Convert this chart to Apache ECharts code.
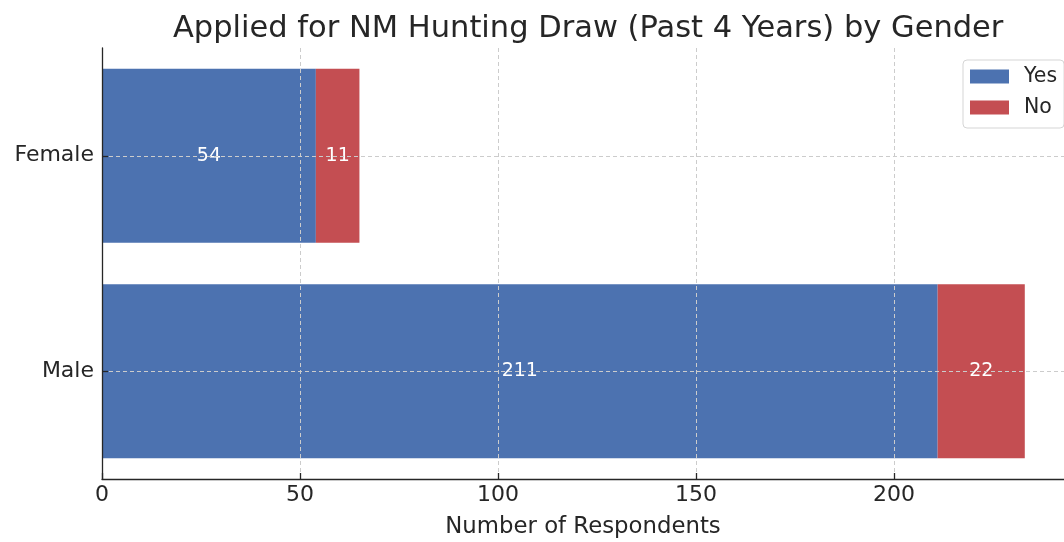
<!DOCTYPE html>
<html>
<head>
<meta charset="utf-8">
<script src="https://cdn.jsdelivr.net/npm/echarts@6/dist/echarts.min.js"></script>
<style>html,body{margin:0;padding:0;background:#fff}#c{width:1064px;height:542px}</style>
</head>
<body>
<div id="c"></div>
<script>
const categories = ['Male', 'Female'];
const yesValues = [211, 54];
const noValues = [22, 11];
const xTicks = [0, 50, 100, 150, 200];

const FONT = 'DejaVu Sans';
const TXT = '#262626';
const grid = '#cccccc';

const chart = echarts.init(document.getElementById('c'), null, {renderer: 'canvas'});
chart.setOption({
  animation: false,
  textStyle: {fontFamily: FONT},
  title: {
    text: 'Applied for NM Hunting Draw (Past 4 Years) by Gender',
    left: 168, top: 9,
    textStyle: {fontFamily: FONT, fontSize: 30.5, fontWeight: 'normal', color: TXT}
  },
  legend: {
    data: ['Yes', 'No'],
    orient: 'vertical',
    left: 963, top: 60,
    padding: [6, 7, 10, 7],
    itemWidth: 39, itemHeight: 14, itemGap: 10,
    icon: 'rect',
    borderColor: '#d5d5d5', borderWidth: 1, borderRadius: 4,
    backgroundColor: 'rgba(255,255,255,0.8)',
    textStyle: {fontFamily: FONT, fontSize: 20.5, color: TXT, lineHeight: 20, padding: [0, 0, 0, 10]}
  },
  grid: {left: 102, top: 48, width: 962, height: 431, containLabel: false, outerBoundsMode: 'none'},
  xAxis: {
    type: 'value', min: 0, max: 242.9, interval: 50, z: 5,
    name: 'Number of Respondents', nameLocation: 'middle', nameGap: 37,
    nameTextStyle: {fontFamily: FONT, fontSize: 22.8, color: TXT},
    axisLine: {show: true, lineStyle: {color: TXT, width: 1.3}},
    axisTick: {show: true, inside: true, length: 6, lineStyle: {color: TXT, width: 1.3}},
    axisLabel: {fontFamily: FONT, fontSize: 22, color: TXT, margin: 5,
      showMaxLabel: false,
      formatter: v => xTicks.includes(v) ? String(v) : ''},
    splitLine: {show: true, lineStyle: {color: grid, width: 1, type: [4, 3]}}
  },
  yAxis: {
    type: 'category', data: categories, z: 5,
    axisLine: {show: true, lineStyle: {color: TXT, width: 1.3}},
    axisTick: {show: true, inside: true, length: 6, alignWithLabel: true, lineStyle: {color: TXT, width: 1.3}},
    axisLabel: {fontFamily: FONT, fontSize: 22, color: TXT, margin: 8},
    splitLine: {show: false}
  },
  series: [
    {
      name: 'Yes', type: 'bar', stack: 'total', data: yesValues, barWidth: 174,
      itemStyle: {color: '#4C72B0'},
      label: {show: true, position: 'inside', color: '#ffffff', fontFamily: FONT, fontSize: 19}
    },
    {
      name: 'No', type: 'bar', stack: 'total', data: noValues, barWidth: 174,
      itemStyle: {color: '#C44E52'},
      label: {show: true, position: 'inside', color: '#ffffff', fontFamily: FONT, fontSize: 19}
    },
    {
      name: 'gridlines', type: 'line', data: [], z: 6, silent: true,
      markLine: {
        silent: true, symbol: 'none', label: {show: false},
        lineStyle: {color: grid, width: 1, type: [4, 3]},
        data: categories.map(c => ({yAxis: c}))
      }
    }
  ]
});
</script>
</body>
</html>
